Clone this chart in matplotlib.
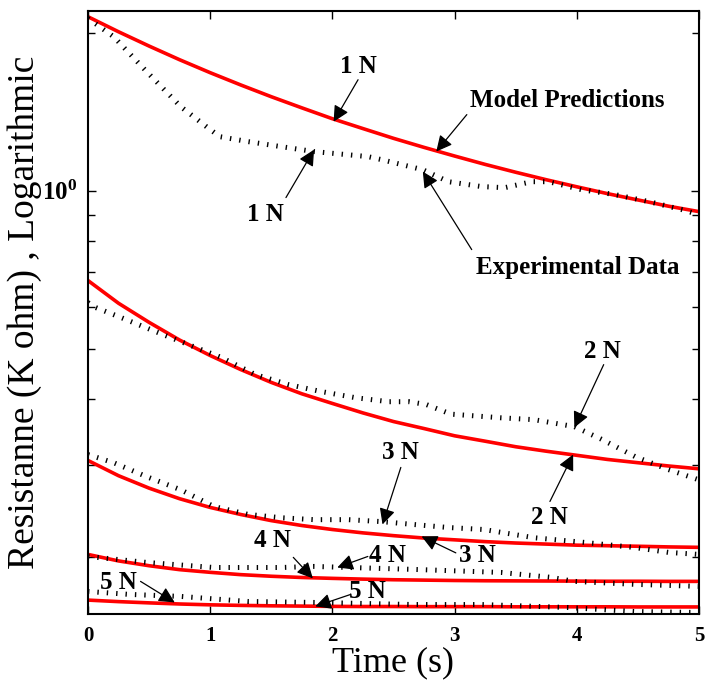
import numpy as np
import matplotlib
matplotlib.use('Agg')
import matplotlib.pyplot as plt
from matplotlib.ticker import NullFormatter

plt.rcParams['font.family'] = ['Liberation Serif', 'DejaVu Serif']
plt.rcParams['mathtext.fontset'] = 'custom'
plt.rcParams['mathtext.rm'] = 'Liberation Serif:bold'
plt.rcParams['mathtext.it'] = 'Liberation Serif:bold'
plt.rcParams['mathtext.bf'] = 'Liberation Serif:bold'

# model predictions (red), time in s, resistance in K ohm
t_model = [0, 0.25, 0.5, 0.75, 1, 1.25, 1.5, 1.75, 2, 2.25, 2.5, 2.75,
           3, 3.25, 3.5, 3.75, 4, 4.25, 4.5, 4.75, 5]
model_1n = [2.145, 2.008, 1.886, 1.776, 1.678, 1.590, 1.510, 1.438, 1.371, 1.313, 1.258, 1.209,
            1.164, 1.122, 1.084, 1.049, 1.017, 0.987, 0.960, 0.934, 0.912]
model_2n = [0.674, 0.610, 0.561, 0.519, 0.485, 0.456, 0.431, 0.410, 0.393, 0.377, 0.363, 0.352,
            0.341, 0.333, 0.325, 0.3187, 0.313, 0.3074, 0.303, 0.2987, 0.295]
model_3n = [0.306, 0.2862, 0.271, 0.2587, 0.249, 0.2414, 0.235, 0.230, 0.226, 0.2227, 0.220, 0.2177,
            0.216, 0.2143, 0.213, 0.212, 0.211, 0.2105, 0.210, 0.2094, 0.209]
model_4n = [0.2026, 0.1969, 0.1928, 0.1895, 0.1873, 0.1854, 0.1841, 0.1831, 0.1824, 0.1818, 0.1813, 0.1810,
            0.1807, 0.1805, 0.1804, 0.1803, 0.1802, 0.1801, 0.1801, 0.1800, 0.1800]
model_5n = [0.1658, 0.1647, 0.1638, 0.1630, 0.1624, 0.1620, 0.1617, 0.1615, 0.1613, 0.1612, 0.1612, 0.1611,
            0.1611, 0.1611, 0.1610, 0.1610, 0.1610, 0.1610, 0.1609, 0.1609, 0.1609]

# experimental data (dotted)
t_exp1 = [0, 0.21, 0.48, 0.76, 0.98, 1.08, 1.31, 1.58, 1.85, 2.29, 2.40, 2.74, 2.95,
          3.22, 3.41, 3.63, 3.77, 4.04, 4.31, 4.59, 4.86, 5.0]
exp_1n = [2.13, 1.965, 1.686, 1.445, 1.318, 1.267, 1.240, 1.213, 1.187, 1.161, 1.146, 1.096, 1.040,
          1.018, 1.013, 1.040, 1.040, 1.004, 0.983, 0.953, 0.920, 0.900]
t_exp2 = [0, 0.06, 0.27, 0.55, 0.82, 1.09, 1.37, 1.64, 1.91, 2.19, 2.46, 2.63, 2.77,
          2.97, 3.38, 3.65, 3.98, 4.20, 4.48, 4.75, 5.0]
exp_2n = [0.612, 0.599, 0.573, 0.539, 0.509, 0.481, 0.446, 0.427, 0.414, 0.403, 0.396, 0.396, 0.391,
          0.375, 0.369, 0.366, 0.355, 0.336, 0.311, 0.294, 0.281]
t_exp3 = [0, 0.21, 0.48, 0.76, 1.03, 1.31, 1.58, 1.85, 2.13, 2.40, 2.67, 2.95, 3.24,
          3.65, 4.06, 4.47, 4.75, 5.0]
exp_3n = [0.314, 0.303, 0.285, 0.269, 0.250, 0.2415, 0.238, 0.236, 0.236, 0.234, 0.231, 0.228, 0.226,
          0.218, 0.2136, 0.2089, 0.2044, 0.2026]
t_exp4 = [0, 0.48, 1.03, 1.58, 1.85, 2.67, 3.38, 3.79, 3.98, 4.47, 5.0]
exp_4n = [0.2008, 0.1956, 0.1913, 0.1913, 0.1922, 0.1897, 0.1872, 0.1832, 0.1800, 0.1777, 0.1761]
t_exp5 = [0, 0.34, 0.76, 1.31, 1.85, 2.67, 3.22, 3.93, 4.47, 5.0]
exp_5n = [0.1722, 0.1700, 0.1685, 0.1648, 0.1641, 0.1626, 0.1626, 0.1605, 0.1577, 0.1570]

# annotations: text, text centre, arrow tail, arrow tip
notes = [
    ('1 N', (2.21, 1.722), (2.21, 1.627), (2.01, 1.353)),
    ('1 N', (1.45, 0.900), (1.62, 0.970), (1.85, 1.197)),
    ('Model Predictions', (3.92, 1.484), (3.10, 1.396), (2.85, 1.187)),
    ('Experimental Data', (4.01, 0.713), (3.14, 0.772), (2.74, 1.087)),
    ('2 N', (4.21, 0.4935), (4.22, 0.466), (3.98, 0.3536)),
    ('2 N', (3.78, 0.2383), (3.78, 0.2556), (3.97, 0.3141)),
    ('3 N', (2.56, 0.317), (2.56, 0.2968), (2.41, 0.2311)),
    ('3 N', (3.19, 0.2017), (3.01, 0.2040), (2.73, 0.2193)),
    ('4 N', (1.51, 0.2154), (1.68, 0.200), (1.84, 0.1824)),
    ('4 N', (2.45, 0.2017), (2.29, 0.2008), (2.04, 0.1913)),
    ('5 N', (0.25, 0.1792), (0.43, 0.180), (0.71, 0.1641)),
    ('5 N', (2.29, 0.1722), (2.15, 0.170), (1.86, 0.1613)),
]

fig = plt.figure(figsize=(7.05, 6.81), dpi=100)
ax = fig.add_axes([0.1248, 0.0984, 0.8667, 0.8855])

for m in [model_1n, model_2n, model_3n, model_4n, model_5n]:
    ax.plot(t_model, m, color='red', lw=2.6)

for t, e in [(t_exp1, exp_1n), (t_exp2, exp_2n), (t_exp3, exp_3n), (t_exp4, exp_4n), (t_exp5, exp_5n)]:
    ax.plot(t, e, color='black', lw=3.6, linestyle=(0, (0.28, 1.6)), dash_capstyle='butt')

for txt, pos, tail, tip in notes:
    ax.text(pos[0], pos[1], txt, fontsize=18, fontweight='bold', ha='center', va='center')
    ax.annotate('', xy=tip, xytext=tail,
                arrowprops=dict(arrowstyle='-|>', color='black', lw=0.9,
                                mutation_scale=24, shrinkA=0, shrinkB=0))

ax.set_yscale('log')
ax.set_xlim(0, 5)
ax.set_ylim(0.156, 2.2)
ax.set_yticks([1])
ax.set_yticklabels([r'$10^{0}$'])
ax.yaxis.set_minor_formatter(NullFormatter())
ax.set_xticks([0, 1, 2, 3, 4, 5])

ax.tick_params(which='both', direction='in', top=True, right=True, width=1)
ax.tick_params(which='major', length=6)
ax.tick_params(which='minor', length=5)
ax.tick_params(axis='x', labelsize=15, pad=9)
ax.tick_params(axis='y', labelsize=18, pad=8)
for lab in ax.get_xticklabels():
    lab.set_fontweight('bold')
for s in ax.spines.values():
    s.set_linewidth(1.5)

ax.set_xlabel('Time (s)', fontsize=26, labelpad=0)
ax.set_ylabel('Resistanne (K ohm) , Logarithmic', fontsize=27, labelpad=0)

fig.savefig('out.png', dpi=100)
